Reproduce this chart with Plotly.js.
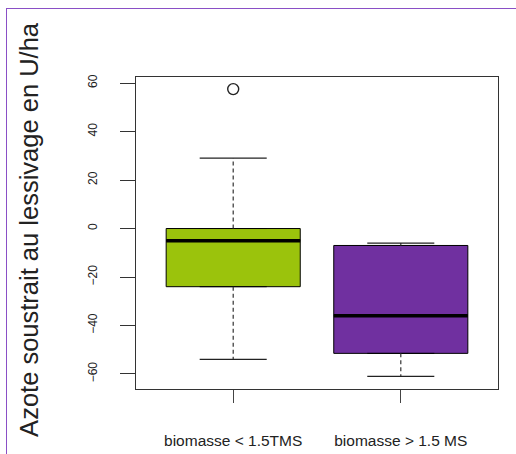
<!DOCTYPE html>
<html>
<head>
<meta charset="utf-8">
<script src="https://cdn.plot.ly/plotly-3.0.1.min.js"></script>
<style>
  html, body { margin: 0; padding: 0; background: #ffffff; }
  #frame { position: absolute; left: 6px; top: 8px; width: 510px; height: 446px;
           border-left: 1.5px solid #8a4fc6; border-top: 1.5px solid #8a4fc6; }
  #chart { position: absolute; left: 0; top: 0; width: 516px; height: 454px; }
</style>
</head>
<body>
<div id="frame"></div>
<div id="chart"></div>
<script>
// ---- data ----
const categories    = ["biomasse < 1.5TMS", "biomasse > 1.5 MS"];
const positions     = [1, 2];
const lowerWhisker  = [-54, -61];
const q1            = [-24, -51.5];
const median        = [-5, -36];
const q3            = [0, -7];
const upperWhisker  = [29, -6];
const outlierGroup  = [1];
const outlierValue  = [57.5];
const boxColors     = ["#9bc30c", "#7030a0"];
const yTicks        = [-60, -40, -20, 0, 20, 40, 60];

const boxWidth = 0.8, capWidth = 0.4;
const traces = [];

// boxes (whiskers hidden: fences set to quartiles; drawn separately below)
categories.forEach((c, i) => {
  traces.push({
    type: 'box', name: c, x: [positions[i]],
    q1: [q1[i]], median: [median[i]], q3: [q3[i]],
    lowerfence: [q1[i]], upperfence: [q3[i]],
    width: boxWidth, fillcolor: boxColors[i],
    line: { color: '#000000', width: 1 },
    boxpoints: false, hoverinfo: 'skip', showlegend: false
  });
});

// dashed whiskers
const wx = [], wy = [];
categories.forEach((c, i) => {
  wx.push(positions[i], positions[i], null, positions[i], positions[i], null);
  wy.push(q3[i], upperWhisker[i], null, q1[i], lowerWhisker[i], null);
});
traces.push({ type: 'scatter', mode: 'lines', x: wx, y: wy,
  line: { color: '#333333', width: 1.2, dash: '4px,3px' }, showlegend: false, hoverinfo: 'skip' });

// caps
const cx = [], cy = [];
categories.forEach((c, i) => {
  cx.push(positions[i] - capWidth / 2, positions[i] + capWidth / 2, null,
          positions[i] - capWidth / 2, positions[i] + capWidth / 2, null);
  cy.push(upperWhisker[i], upperWhisker[i], null, lowerWhisker[i], lowerWhisker[i], null);
});
traces.push({ type: 'scatter', mode: 'lines', x: cx, y: cy,
  line: { color: '#222222', width: 1.2 }, showlegend: false, hoverinfo: 'skip' });

// thick medians
const mx = [], my = [];
categories.forEach((c, i) => {
  mx.push(positions[i] - boxWidth / 2, positions[i] + boxWidth / 2, null);
  my.push(median[i], median[i], null);
});
traces.push({ type: 'scatter', mode: 'lines', x: mx, y: my,
  line: { color: '#000000', width: 3.5 }, showlegend: false, hoverinfo: 'skip' });

// outliers
traces.push({ type: 'scatter', mode: 'markers', x: outlierGroup, y: outlierValue,
  marker: { symbol: 'circle-open', size: 11, color: '#222222', line: { width: 1.4 } },
  showlegend: false, hoverinfo: 'skip' });

const layout = {
  width: 516, height: 454,
  margin: { l: 136, r: 18, t: 77, b: 65 },
  paper_bgcolor: 'rgba(0,0,0,0)', plot_bgcolor: '#ffffff',
  font: { family: 'Liberation Sans, Arial, sans-serif', color: '#222222' },
  showlegend: false,
  xaxis: {
    range: [0.42, 2.58], tickmode: 'array', tickvals: positions, ticktext: categories,
    showgrid: false, zeroline: false,
    showline: true, mirror: true, linecolor: '#333333', linewidth: 1,
    ticks: 'outside', ticklen: 13, tickcolor: '#444444', tickwidth: 1,
    tickfont: { size: 15.5, color: '#222222' }, ticklabelstandoff: 24
  },
  yaxis: {
    range: [-66.2, 62.5], tickmode: 'array', tickvals: yTicks,
    showgrid: false, zeroline: false,
    showline: true, mirror: true, linecolor: '#333333', linewidth: 1,
    ticks: 'outside', ticklen: 15, tickcolor: '#333333', tickwidth: 1,
    tickangle: -90, tickfont: { size: 12, color: '#222222' }, ticklabelstandoff: 18
  },
  annotations: [{
    text: 'Azote soustrait au lessivage en U/ha',
    xref: 'paper', yref: 'paper', x: (29 - 136) / 362, y: 0.51,
    xanchor: 'center', yanchor: 'middle', textangle: -90, showarrow: false,
    font: { size: 25.5, color: '#222222', family: 'Liberation Sans, Arial, sans-serif' }
  }]
};

Plotly.newPlot('chart', traces, layout, { displayModeBar: false, staticPlot: true });
</script>
</body>
</html>
